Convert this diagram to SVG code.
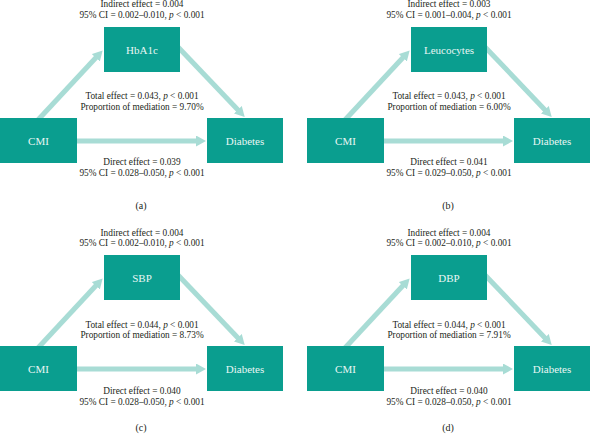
<svg xmlns="http://www.w3.org/2000/svg" width="591" height="435" viewBox="0 0 591 435">
<style>
.bg{fill:#ffffff}
.box{fill:#0a9e8f}
.bl{font-family:"Liberation Serif",serif;font-size:11px;fill:#e8f6f4;text-anchor:middle}
.lab{font-family:"Liberation Serif",serif;font-size:9.3px;fill:#231f20;text-anchor:middle}
.cap{font-family:"Liberation Serif",serif;font-size:10px;fill:#231f20;text-anchor:middle}
.arr{stroke:#a8dcd5;stroke-width:5;fill:none;marker-end:url(#ah)}
.i{font-style:italic}
</style>
<defs>
<marker id="ah" markerUnits="userSpaceOnUse" markerWidth="10" markerHeight="11" viewBox="0 0 10 11" refX="1" refY="5.5" orient="auto">
<path d="M0,0 L10,5.5 L0,11 z" fill="#a8dcd5"/>
</marker>
</defs>
<rect class="bg" x="0" y="0" width="591" height="435"/>

<g id="panel-a">
<g id="a-connectors">
<line class="arr" x1="77" y1="141" x2="197" y2="141"/>
<line class="arr" x1="37" y1="121" x2="96.5" y2="57"/>
<line class="arr" x1="178" y1="47" x2="238.5" y2="110.5"/>
</g>
<g id="a-hba1c"><rect class="box" x="104" y="27" width="76" height="45"/><text class="bl" x="142" y="53.5">HbA1c</text></g>
<g id="a-cmi"><rect class="box" x="0" y="118" width="77" height="45"/><text class="bl" x="38.5" y="144.5">CMI</text></g>
<g id="a-diabetes"><rect class="box" x="207" y="118" width="76" height="45"/><text class="bl" x="245" y="144.5">Diabetes</text></g>
<g id="a-labels">
<text class="lab" x="142" y="7">Indirect effect = 0.004</text>
<text class="lab" x="142" y="17.5">95% CI = 0.002–0.010, <tspan class="i">p</tspan> &lt; 0.001</text>
<text class="lab" x="142" y="99">Total effect = 0.043, <tspan class="i">p</tspan> &lt; 0.001</text>
<text class="lab" x="142" y="109.5">Proportion of mediation = 9.70%</text>
<text class="lab" x="142" y="164.5">Direct effect = 0.039</text>
<text class="lab" x="142" y="175.5">95% CI = 0.028–0.050, <tspan class="i">p</tspan> &lt; 0.001</text>
<text class="cap" x="141" y="209">(a)</text>
</g>
</g>

<g id="panel-b" transform="translate(307,0)">
<g id="b-connectors">
<line class="arr" x1="77" y1="141" x2="197" y2="141"/>
<line class="arr" x1="37" y1="121" x2="96.5" y2="57"/>
<line class="arr" x1="178" y1="47" x2="238.5" y2="110.5"/>
</g>
<g id="b-leucocytes"><rect class="box" x="104" y="27" width="76" height="45"/><text class="bl" x="142" y="53.5">Leucocytes</text></g>
<g id="b-cmi"><rect class="box" x="0" y="118" width="77" height="45"/><text class="bl" x="38.5" y="144.5">CMI</text></g>
<g id="b-diabetes"><rect class="box" x="207" y="118" width="76" height="45"/><text class="bl" x="245" y="144.5">Diabetes</text></g>
<g id="b-labels">
<text class="lab" x="142" y="7">Indirect effect = 0.003</text>
<text class="lab" x="142" y="17.5">95% CI = 0.001–0.004, <tspan class="i">p</tspan> &lt; 0.001</text>
<text class="lab" x="142" y="99">Total effect = 0.043, <tspan class="i">p</tspan> &lt; 0.001</text>
<text class="lab" x="142" y="109.5">Proportion of mediation = 6.00%</text>
<text class="lab" x="142" y="164.5">Direct effect = 0.041</text>
<text class="lab" x="142" y="175.5">95% CI = 0.029–0.050, <tspan class="i">p</tspan> &lt; 0.001</text>
<text class="cap" x="141" y="209">(b)</text>
</g>
</g>

<g id="panel-c" transform="translate(0,228)">
<g id="c-connectors">
<line class="arr" x1="77" y1="141" x2="197" y2="141"/>
<line class="arr" x1="37" y1="121" x2="96.5" y2="57"/>
<line class="arr" x1="178" y1="47" x2="238.5" y2="110.5"/>
</g>
<g id="c-sbp"><rect class="box" x="104" y="27" width="76" height="45"/><text class="bl" x="142" y="53.5">SBP</text></g>
<g id="c-cmi"><rect class="box" x="0" y="118" width="77" height="45"/><text class="bl" x="38.5" y="144.5">CMI</text></g>
<g id="c-diabetes"><rect class="box" x="207" y="118" width="76" height="45"/><text class="bl" x="245" y="144.5">Diabetes</text></g>
<g id="c-labels">
<text class="lab" x="142" y="7.5">Indirect effect = 0.004</text>
<text class="lab" x="142" y="18">95% CI = 0.002–0.010, <tspan class="i">p</tspan> &lt; 0.001</text>
<text class="lab" x="142" y="99.5">Total effect = 0.044, <tspan class="i">p</tspan> &lt; 0.001</text>
<text class="lab" x="142" y="110">Proportion of mediation = 8.73%</text>
<text class="lab" x="142" y="165.5">Direct effect = 0.040</text>
<text class="lab" x="142" y="176.5">95% CI = 0.028–0.050, <tspan class="i">p</tspan> &lt; 0.001</text>
<text class="cap" x="141" y="203">(c)</text>
</g>
</g>

<g id="panel-d" transform="translate(307,228)">
<g id="d-connectors">
<line class="arr" x1="77" y1="141" x2="197" y2="141"/>
<line class="arr" x1="37" y1="121" x2="96.5" y2="57"/>
<line class="arr" x1="178" y1="47" x2="238.5" y2="110.5"/>
</g>
<g id="d-dbp"><rect class="box" x="104" y="27" width="76" height="45"/><text class="bl" x="142" y="53.5">DBP</text></g>
<g id="d-cmi"><rect class="box" x="0" y="118" width="77" height="45"/><text class="bl" x="38.5" y="144.5">CMI</text></g>
<g id="d-diabetes"><rect class="box" x="207" y="118" width="76" height="45"/><text class="bl" x="245" y="144.5">Diabetes</text></g>
<g id="d-labels">
<text class="lab" x="142" y="7.5">Indirect effect = 0.004</text>
<text class="lab" x="142" y="18">95% CI = 0.002–0.010, <tspan class="i">p</tspan> &lt; 0.001</text>
<text class="lab" x="142" y="99.5">Total effect = 0.044, <tspan class="i">p</tspan> &lt; 0.001</text>
<text class="lab" x="142" y="110">Proportion of mediation = 7.91%</text>
<text class="lab" x="142" y="165.5">Direct effect = 0.040</text>
<text class="lab" x="142" y="176.5">95% CI = 0.028–0.050, <tspan class="i">p</tspan> &lt; 0.001</text>
<text class="cap" x="141" y="203">(d)</text>
</g>
</g>
</svg>
